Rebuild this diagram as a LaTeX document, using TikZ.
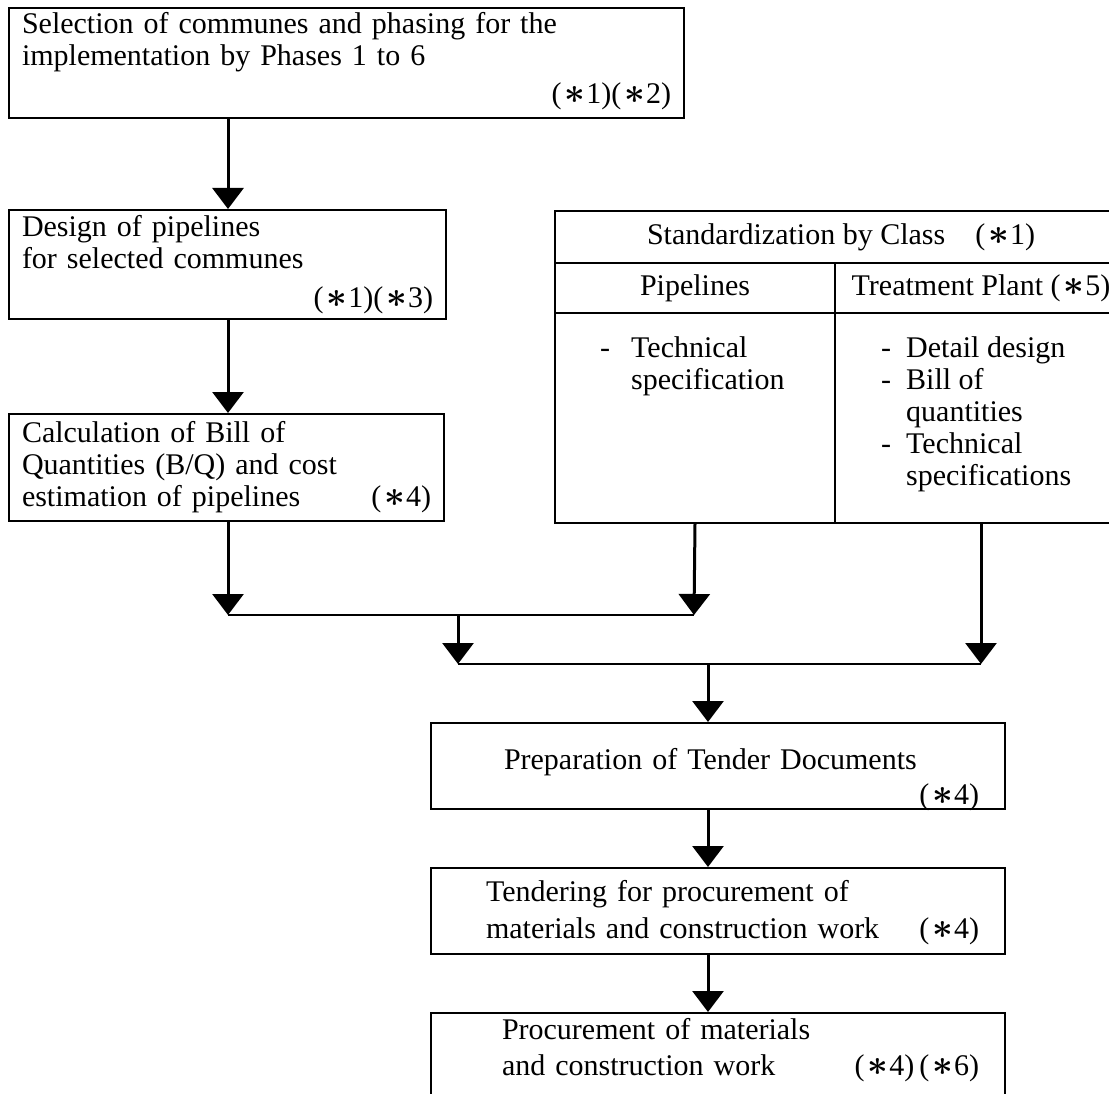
\documentclass[tikz,border=0pt]{standalone}
\usepackage{fontspec}
\setmainfont{Liberation Serif}
\usetikzlibrary{arrows.meta}
\newcommand{\mk}[1]{(\hspace{3pt}\scalebox{1.45}{\boldmath$\ast$}\hspace{1pt}#1)}
\newcommand{\rnote}[1]{\mbox{}\hfill#1}
\begin{document}
\begin{tikzpicture}[x=1pt,y=-1pt,
  font=\fontsize{30}{32}\selectfont,
  box/.style={draw, line width=2pt, anchor=north west, inner xsep=13pt, inner ysep=0pt, align=left},
  cell/.style={draw, line width=2pt, anchor=north west, inner sep=0pt},
  flow/.style={line width=3pt, -{Triangle[width=31pt,length=21pt]}},
  joinline/.style={line width=2pt}]
\useasboundingbox (0,0) rectangle (1109,1094);
\clip (0,0) rectangle (1109,1094);
% left column
\node[box, text width=649pt, text height=26pt, text depth=84pt] (Selection_of_Communes) at (8,7) {Selection of communes and phasing for the\\implementation by Phases 1 to 6\\[6pt]\rnote{\mk{1}\mk{2}\hspace*{10pt}}};
\node[box, text width=411pt, text height=27pt, text depth=82pt] (Design_of_Pipelines) at (8,209) {Design of pipelines\\for selected communes\\[7pt]\rnote{\mk{1}\mk{3}}};
\node[box, text width=409pt, text height=28pt, text depth=79pt] (Calculation_of_BQ) at (8,413) {Calculation of Bill of\\Quantities (B/Q) and cost\\estimation of pipelines\hfill\mk{4}};
% standardization table
\node[cell, minimum width=572pt, minimum height=52pt] (Standardization_by_Class) at (554,210) {Standardization by Class\quad\mk{1}};
\node[cell, minimum width=280pt, minimum height=50pt] (Pipelines) at (554,262) {Pipelines};
\node[cell, minimum width=292pt, minimum height=50pt] (Treatment_Plant) at (834,262) {Treatment Plant \mk{5}};
\node[cell, minimum width=280pt, minimum height=210pt] (Pipeline_Items) at (554,312) {};
\node[cell, minimum width=292pt, minimum height=210pt] (Plant_Items) at (834,312) {};
\node[anchor=base west, inner sep=0pt] (Technical_Specification) at (600,357) {\begin{tabular}[t]{@{}p{31pt}@{}l@{}}-&Technical\\&specification\end{tabular}};
\node[anchor=base west, inner sep=0pt] (Plant_Documents) at (881,357) {\begin{tabular}[t]{@{}p{25pt}@{}l@{}}-&Detail design\\-&Bill of\\&quantities\\-&Technical\\&specifications\end{tabular}};
% tender steps
\node[box, inner xsep=26pt, text width=522pt, text height=46pt, text depth=40pt] (Preparation_of_Tender_Documents) at (430,722) {\hspace*{47pt}Preparation of Tender Documents\\[3pt]\rnote{\mk{4}}};
\node[box, inner xsep=26pt, text width=522pt, text height=33pt, text depth=53pt] (Tendering) at (430,867) {\hspace*{29pt}Tendering for procurement of\\[5pt]\hspace*{29pt}materials and construction work\hfill\mk{4}};
\node[box, inner xsep=26pt, text width=522pt, text height=26pt, text depth=62pt] (Procurement) at (430,1012) {\hspace*{45pt}Procurement of materials\\[4pt]\hspace*{45pt}and construction work\hfill\mk{4}\,\mk{6}};
% connectors
\coordinate (Left_Flow) at (228,615);
\coordinate (Join_Pipelines) at (694,615);
\coordinate (Join_Plant) at (458,664);
\coordinate (Split) at (708,664);
\draw[flow] (Selection_of_Communes.south -| Left_Flow) -- (Design_of_Pipelines.north -| Left_Flow);
\draw[flow] (Design_of_Pipelines.south -| Left_Flow) -- (Calculation_of_BQ.north -| Left_Flow);
\draw[flow] (Calculation_of_BQ.south -| Left_Flow) -- (Left_Flow);
\draw[flow] (Pipeline_Items.south) -- (Join_Pipelines);
\draw[joinline] (Left_Flow) -- (Join_Pipelines);
\draw[flow] (Join_Plant |- Join_Pipelines) -- (Join_Plant);
\draw[flow] (Plant_Items.south) -- (Plant_Items.south |- Join_Plant);
\draw[joinline] (Join_Plant) -- (Plant_Items.south |- Join_Plant);
\draw[flow] (Split) -- (Split |- Preparation_of_Tender_Documents.north);
\draw[flow] (Split |- Preparation_of_Tender_Documents.south) -- (Split |- Tendering.north);
\draw[flow] (Split |- Tendering.south) -- (Split |- Procurement.north);
\end{tikzpicture}
\end{document}
